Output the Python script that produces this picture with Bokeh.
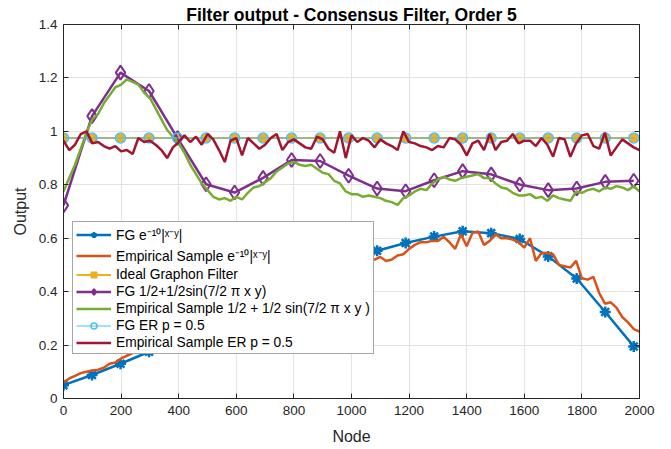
from bokeh.plotting import figure
from bokeh.models import (Legend, LegendItem, LinearAxis, FixedTicker,
                          CustomJSTickFormatter)
from bokeh.embed import file_html
from bokeh.resources import INLINE

# ---------------- data ----------------
fg_nodes = [0, 99, 198, 297, 396, 495, 594, 693, 792, 891, 990,
            1089, 1188, 1287, 1386, 1485, 1584, 1683, 1782, 1881, 1980]
emp_nodes = list(range(0, 2001, 20))

fg_exp = [0.05, 0.088, 0.13, 0.175, 0.225, 0.275, 0.325, 0.375, 0.42, 0.465, 0.51,
          0.553, 0.582, 0.606, 0.626, 0.619, 0.597, 0.532, 0.449, 0.324, 0.195]

emp_exp = [0.06, 0.075, 0.085, 0.095, 0.1, 0.105, 0.108, 0.115, 0.13, 0.135,
           0.15, 0.16, 0.17, 0.18, 0.185, 0.2, 0.205, 0.22, 0.23, 0.235,
           0.25, 0.26, 0.265, 0.28, 0.285, 0.3, 0.305, 0.315, 0.33, 0.335,
           0.345, 0.355, 0.36, 0.37, 0.38, 0.385, 0.395, 0.405, 0.41, 0.42,
           0.43, 0.435, 0.445, 0.45, 0.46, 0.465, 0.475, 0.48, 0.49, 0.495,
           0.5, 0.505, 0.51, 0.515, 0.52, 0.53, 0.515, 0.52, 0.535, 0.54,
           0.56, 0.575, 0.585, 0.585, 0.59, 0.59, 0.605, 0.585, 0.56, 0.615,
           0.57, 0.62, 0.625, 0.575, 0.59, 0.615, 0.6, 0.6, 0.595, 0.585,
           0.565, 0.6, 0.515, 0.545, 0.545, 0.54, 0.5, 0.495, 0.49, 0.515,
           0.45, 0.445, 0.455, 0.395, 0.355, 0.36, 0.34, 0.305, 0.285, 0.26,
           0.25]

ideal = [0.975, 0.975, 0.975, 0.975, 0.975, 0.975, 0.975, 0.975, 0.975, 0.975, 0.975,
         0.975, 0.975, 0.975, 0.975, 0.975, 0.975, 0.975, 0.975, 0.975, 0.975]

fg_sin = [0.723, 1.057, 1.22, 1.151, 0.975, 0.802, 0.771, 0.826, 0.893, 0.889, 0.834,
          0.786, 0.776, 0.817, 0.851, 0.839, 0.801, 0.78, 0.786, 0.811, 0.815]

emp_sin = [0.775, 0.825, 0.875, 0.935, 0.995, 1.045, 1.065, 1.105, 1.135, 1.165,
           1.175, 1.195, 1.185, 1.175, 1.145, 1.125, 1.085, 1.045, 1.005, 0.98,
           0.955, 0.92, 0.875, 0.84, 0.805, 0.78, 0.755, 0.745, 0.75, 0.74,
           0.755, 0.745, 0.77, 0.79, 0.795, 0.81, 0.825, 0.85, 0.865, 0.88,
           0.885, 0.875, 0.87, 0.875, 0.86, 0.845, 0.84, 0.815, 0.805, 0.775,
           0.765, 0.765, 0.755, 0.76, 0.755, 0.75, 0.74, 0.735, 0.725, 0.75,
           0.76, 0.775, 0.785, 0.78, 0.805, 0.82, 0.83, 0.82, 0.815, 0.825,
           0.83, 0.835, 0.84, 0.825, 0.825, 0.805, 0.79, 0.785, 0.77, 0.76,
           0.76, 0.765, 0.75, 0.755, 0.74, 0.76, 0.75, 0.745, 0.74, 0.775,
           0.77, 0.78, 0.785, 0.775, 0.79, 0.785, 0.795, 0.79, 0.78, 0.795,
           0.775]

fg_er = [0.975, 0.975, 0.975, 0.975, 0.975, 0.975, 0.975, 0.975, 0.975, 0.975, 0.975,
         0.975, 0.975, 0.975, 0.975, 0.975, 0.975, 0.975, 0.975, 0.975, 0.975]

emp_er = [0.965, 0.93, 0.95, 0.99, 1.0, 0.955, 0.96, 0.945, 0.935, 0.945,
          0.925, 0.93, 0.915, 0.975, 0.96, 0.965, 0.95, 0.93, 0.90, 0.94,
          0.96, 0.985, 0.96, 0.98, 0.95, 0.99, 0.97, 0.93, 0.885, 0.965,
          0.975, 0.91, 0.975, 0.955, 0.935, 0.95, 0.975, 0.99, 0.93, 0.96,
          0.97, 0.955, 0.94, 0.935, 0.98, 0.97, 0.935, 0.92, 1.0, 0.9,
          0.985, 0.96, 0.975, 0.965, 0.94, 0.97, 0.955, 0.945, 0.93, 1.0,
          0.96, 0.955, 0.945, 0.94, 0.93, 0.945, 0.94, 0.975, 0.97, 0.95,
          0.91, 0.955, 0.965, 0.93, 0.99, 0.93, 0.96, 0.965, 0.99, 0.955,
          0.965, 0.965, 0.945, 0.975, 0.95, 0.905, 0.975, 0.97, 0.905, 0.955,
          0.985, 0.99, 0.945, 0.935, 0.995, 0.91, 0.94, 0.97, 0.955, 0.94,
          0.93]

x_ticks = [0, 200, 400, 600, 800, 1000, 1200, 1400, 1600, 1800, 2000]
y_ticks = [0, 0.2, 0.4, 0.6, 0.8, 1.0, 1.2, 1.4]

labels = ["FG e\u207b\u00b9\u2070|\u02e3\u207b\u02b8|",
          "Empirical Sample e\u207b\u00b9\u2070|\u02e3\u207b\u02b8|",
          "Ideal Graphon Filter",
          "FG 1/2+1/2sin(7/2 \u03c0 x y)",
          "Empirical Sample 1/2 + 1/2 sin(7/2 \u03c0 x y )",
          "FG ER p = 0.5",
          "Empirical Sample ER p = 0.5"]

# ---------------- style ----------------
FONT = "Liberation Sans"
AX = "#262626"
BLUE = "#0072BD"
ORANGE = "#D95319"
YELLOW = "#EDB120"
PURPLE = "#7E2F8E"
GREEN = "#77AC30"
LBLUE = "#4DBEEE"
RED = "#A2142F"

p = figure(width=671, height=449, x_range=(0, 2000), y_range=(0, 1.4),
           output_backend="svg", toolbar_location=None,
           min_border_left=63, min_border_right=32, min_border_top=24,
           min_border_bottom=51, background_fill_color="white",
           border_fill_color="white")

p.title.text = "Filter output - Consensus Filter, Order 5"
p.title.align = "center"
p.title.text_font = FONT
p.title.text_font_size = "17.5px"
p.title.text_font_style = "bold"
p.title.text_color = "black"
p.title.standoff = 0

xt = FixedTicker(ticks=x_ticks)
yt = FixedTicker(ticks=y_ticks)
p.xaxis.ticker = xt
p.yaxis.ticker = yt
p.yaxis.formatter = CustomJSTickFormatter(
    code="return tick.toFixed(1).replace(/\\.0$/, '');")
p.xgrid.ticker = xt
p.ygrid.ticker = yt
for g in (p.xgrid, p.ygrid):
    g.grid_line_color = "#e3e3e3"
    g.grid_line_width = 1

for ax in (p.xaxis, p.yaxis):
    ax.axis_line_color = AX
    ax.major_tick_line_color = AX
    ax.major_tick_in = 5
    ax.major_tick_out = 0
    ax.minor_tick_in = 0
    ax.minor_tick_out = 0
    ax.major_label_text_font = FONT
    ax.major_label_text_font_size = "13.5px"
    ax.major_label_text_color = AX
    ax.axis_label_text_font = FONT
    ax.axis_label_text_font_size = "16px"
    ax.axis_label_text_font_style = "normal"
    ax.axis_label_text_color = AX
p.xaxis.axis_label = "Node"
p.yaxis.axis_label = "Output"
p.xaxis.major_label_standoff = 7
p.yaxis.major_label_standoff = 6
p.xaxis.axis_label_standoff = 10
p.yaxis.axis_label_standoff = 7

blank = CustomJSTickFormatter(code="return '';")
for loc, tk in (("right", yt), ("above", xt)):
    ax = LinearAxis(ticker=tk, formatter=blank,
                    major_tick_in=5, major_tick_out=0, minor_tick_in=0,
                    minor_tick_out=0, axis_line_color=AX,
                    major_tick_line_color=AX, major_label_standoff=0)
    p.add_layout(ax, loc)

p.outline_line_color = AX

# ---------------- glyphs ----------------
r1l = p.line(fg_nodes, fg_exp, line_color=BLUE, line_width=2.5)
r1m = p.scatter(fg_nodes, fg_exp, marker="asterisk", size=11,
                line_color=BLUE, line_width=2.5)
r2 = p.line(emp_nodes, emp_exp, line_color=ORANGE, line_width=2.5)
r3l = p.line(fg_nodes, ideal, line_color=YELLOW, line_width=2)
r3m = p.scatter(fg_nodes, ideal, marker="square", size=7,
                fill_color=YELLOW, line_color=YELLOW)
r4l = p.line(fg_nodes, fg_sin, line_color=PURPLE, line_width=2.5)
r4m = p.scatter(fg_nodes, fg_sin, marker="diamond", size=14,
                fill_color=None, line_color=PURPLE, line_width=2)
r5 = p.line(emp_nodes, emp_sin, line_color=GREEN, line_width=2.5)
r6l = p.line(fg_nodes, fg_er, line_color=LBLUE, line_width=1)
r6m = p.scatter(fg_nodes, fg_er, marker="circle", size=10,
                fill_color=None, line_color=LBLUE, line_width=1.5)
r7 = p.line(emp_nodes, emp_er, line_color=RED, line_width=2.5)

items = [LegendItem(label=labels[0], renderers=[r1l, r1m]),
         LegendItem(label=labels[1], renderers=[r2]),
         LegendItem(label=labels[2], renderers=[r3l, r3m]),
         LegendItem(label=labels[3], renderers=[r4l, r4m]),
         LegendItem(label=labels[4], renderers=[r5]),
         LegendItem(label=labels[5], renderers=[r6l, r6m]),
         LegendItem(label=labels[6], renderers=[r7])]

legend = Legend(items=items, location=(9, 44), margin=0, padding=3,
                spacing=2, glyph_width=35, glyph_height=15, label_height=15,
                label_standoff=5, label_text_font=FONT,
                label_text_font_size="13.8px", label_text_color="black",
                border_line_color="#4d4d4d", border_line_width=1,
                background_fill_color="white", background_fill_alpha=1)
p.add_layout(legend, "center")

open("out.html", "w").write(file_html(p, INLINE))
